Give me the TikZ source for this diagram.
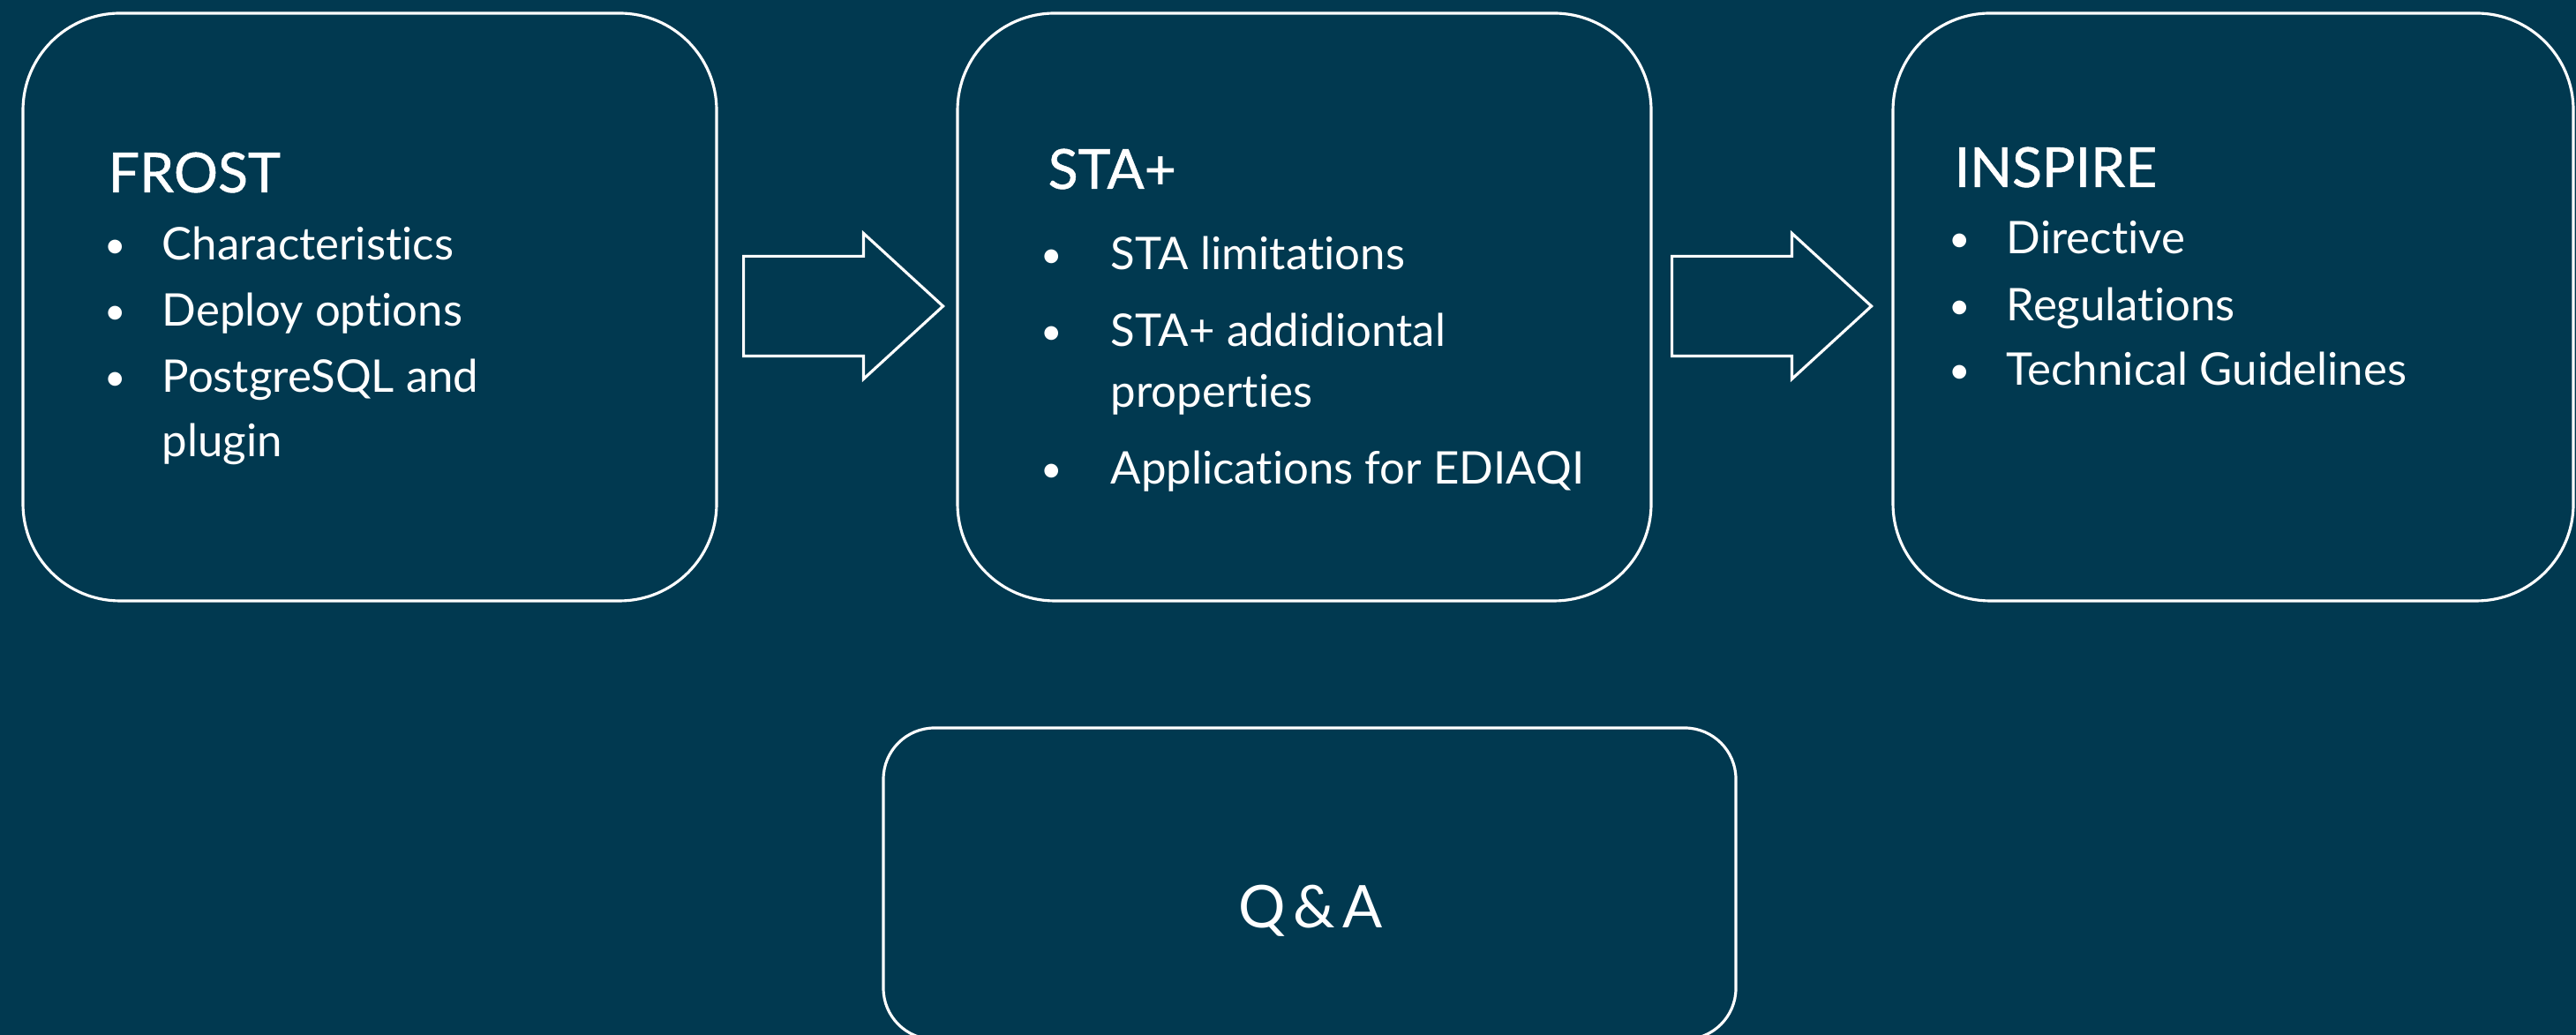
\documentclass[tikz,border=0pt]{standalone}
\usepackage{fontspec}
\setmainfont{Lato}[Ligatures=NoCommon]
\usetikzlibrary{shapes.arrows}
\definecolor{slidebg}{RGB}{1,57,80}

\begin{document}
\begin{tikzpicture}[
  panel/.style={draw=white,line width=0.9pt,rounded corners=1.1cm,minimum width=7.86cm,minimum height=6.66cm,inner sep=0pt},
  blockarrow/.style={single arrow,draw=white,line width=0.9pt,minimum height=2.26cm,inner xsep=0pt,inner ysep=0.55cm,single arrow head extend=0.26cm,single arrow tip angle=85,anchor=tail},
  heading/.style={white,anchor=base west,inner sep=0pt,font=\fontsize{17.8}{22}\selectfont\addfontfeature{FakeBold=0.8}},
  listitem/.style={white,anchor=base west,inner sep=0pt,font=\fontsize{14.5}{17}\selectfont},
  bulletdot/.style={white,anchor=base,inner sep=0pt,yshift=0.02cm,font=\fontsize{12}{14}\selectfont}
]
\fill[slidebg] (0,0) rectangle (29.19,11.73);
\useasboundingbox (0,0) rectangle (29.19,11.73);

\node[panel] (frost) at (4.19,8.25) {};
\node[panel] (staplus) at (14.78,8.25) {};
\node[panel,minimum width=7.71cm] (inspire) at (25.305,8.25) {};
\node[panel,rounded corners=0.58cm,minimum width=9.66cm,minimum height=3.53cm] (qa) at (14.84,1.715) {};

\node[blockarrow] (arrowa) at (8.41,8.26) {};
\node[blockarrow] (arrowb) at (18.93,8.26) {};

\node[heading] (frosttitle) at (1.22,9.55) {FROST};
\foreach \y/\t [count=\i] in {8.78/Characteristics,8.03/Deploy options,7.28/PostgreSQL and} {
  \node[bulletdot] (frostdot\i) at (1.31,\y) {•};
  \node[listitem] (frostitem\i) at (1.83,\y) {\t};
}
\node[listitem] (frostitem4) at (1.83,6.55) {plugin};

\node[heading] (statitle) at (11.87,9.59) {STA+};
\foreach \y/\t [count=\i] in {8.67/STA limitations,7.80/STA+ addidiontal,6.24/Applications for EDIAQI} {
  \node[bulletdot] (stadot\i) at (11.92,\y) {•};
  \node[listitem] (staitem\i) at (12.58,\y) {\t};
}
\node[listitem] (staitem4) at (12.58,7.11) {properties};

\node[heading] (inspiretitle) at (22.14,9.61) {INSPIRE};
\foreach \y/\t [count=\i] in {8.85/Directive,8.09/Regulations,7.36/Technical Guidelines} {
  \node[bulletdot] (inspiredot\i) at (22.21,\y) {•};
  \node[listitem] (inspireitem\i) at (22.73,\y) {\t};
}

\node[white,anchor=base,inner sep=0pt,font=\fontsize{19}{23}\selectfont] (qatext) at (14.85,1.21) {Q\hspace{2.5pt}\&\hspace{2.5pt}A};
\end{tikzpicture}
\end{document}
